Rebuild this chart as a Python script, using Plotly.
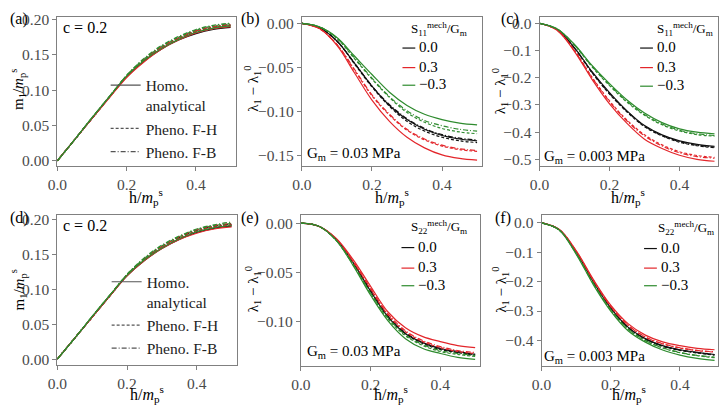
import plotly.graph_objects as go

# ---------------- data ----------------
H = [0.0, 0.05, 0.10, 0.15, 0.20, 0.25, 0.30, 0.35, 0.40, 0.45, 0.50]

# (a) magnetisation, c = 0.2
a_black_solid   = [0, 0.030, 0.060, 0.090, 0.119, 0.141, 0.158, 0.171, 0.180, 0.186, 0.189]
a_black_dash    = [0, 0.030, 0.060, 0.090, 0.120, 0.142, 0.160, 0.173, 0.183, 0.189, 0.192]
a_black_dashdot = [0, 0.030, 0.060, 0.090, 0.120, 0.143, 0.161, 0.174, 0.184, 0.190, 0.193]
a_red_solid     = [0, 0.030, 0.060, 0.089, 0.118, 0.140, 0.158, 0.171, 0.181, 0.187, 0.190]
a_red_dash      = [0, 0.030, 0.060, 0.090, 0.119, 0.142, 0.160, 0.173, 0.183, 0.189, 0.192]
a_red_dashdot   = [0, 0.030, 0.060, 0.090, 0.120, 0.143, 0.161, 0.174, 0.184, 0.190, 0.193]
a_green_solid   = [0, 0.030, 0.061, 0.091, 0.120, 0.142, 0.159, 0.172, 0.182, 0.188, 0.191]
a_green_dash    = [0, 0.030, 0.061, 0.091, 0.121, 0.144, 0.162, 0.175, 0.185, 0.191, 0.194]
a_green_dashdot = [0, 0.030, 0.061, 0.091, 0.121, 0.145, 0.163, 0.176, 0.186, 0.192, 0.195]

# (b) lambda shift, G_m = 0.03 MPa, S11
b_black_solid   = [0, -0.005, -0.020, -0.045, -0.071, -0.093, -0.109, -0.120, -0.127, -0.131, -0.133]
b_black_dash    = [0, -0.005, -0.020, -0.046, -0.072, -0.094, -0.111, -0.122, -0.129, -0.133, -0.135]
b_black_dashdot = [0, -0.005, -0.020, -0.045, -0.071, -0.092, -0.108, -0.119, -0.126, -0.130, -0.132]
b_red_solid     = [0, -0.006, -0.025, -0.056, -0.087, -0.111, -0.129, -0.141, -0.149, -0.153, -0.155]
b_red_dash      = [0, -0.006, -0.024, -0.053, -0.082, -0.104, -0.121, -0.132, -0.139, -0.143, -0.145]
b_red_dashdot   = [0, -0.006, -0.024, -0.052, -0.081, -0.103, -0.120, -0.131, -0.138, -0.142, -0.144]
b_green_solid   = [0, -0.004, -0.016, -0.037, -0.058, -0.078, -0.093, -0.103, -0.109, -0.113, -0.115]
b_green_dash    = [0, -0.004, -0.017, -0.040, -0.063, -0.084, -0.101, -0.112, -0.119, -0.123, -0.125]
b_green_dashdot = [0, -0.004, -0.017, -0.039, -0.062, -0.083, -0.099, -0.110, -0.116, -0.120, -0.122]

# (c) lambda shift, G_m = 0.003 MPa, S11
c_black_solid   = [0, -0.023, -0.090, -0.178, -0.255, -0.322, -0.376, -0.410, -0.432, -0.445, -0.452]
c_black_dash    = [0, -0.023, -0.092, -0.182, -0.260, -0.326, -0.380, -0.414, -0.437, -0.450, -0.457]
c_black_dashdot = [0, -0.023, -0.091, -0.180, -0.258, -0.324, -0.378, -0.412, -0.435, -0.448, -0.455]
c_red_solid     = [0, -0.026, -0.104, -0.206, -0.296, -0.368, -0.426, -0.460, -0.485, -0.500, -0.507]
c_red_dash      = [0, -0.025, -0.100, -0.198, -0.285, -0.356, -0.410, -0.447, -0.472, -0.486, -0.493]
c_red_dashdot   = [0, -0.025, -0.101, -0.200, -0.288, -0.359, -0.414, -0.451, -0.476, -0.490, -0.496]
c_green_solid   = [0, -0.020, -0.078, -0.155, -0.222, -0.282, -0.330, -0.365, -0.388, -0.400, -0.406]
c_green_dash    = [0, -0.021, -0.081, -0.160, -0.229, -0.290, -0.338, -0.373, -0.396, -0.409, -0.415]
c_green_dashdot = [0, -0.021, -0.080, -0.158, -0.226, -0.287, -0.335, -0.370, -0.393, -0.406, -0.412]

# (d) magnetisation, c = 0.2 (S22 case)
d_black_solid   = [0, 0.030, 0.060, 0.090, 0.119, 0.141, 0.158, 0.171, 0.181, 0.187, 0.190]
d_black_dash    = [0, 0.030, 0.060, 0.090, 0.120, 0.142, 0.160, 0.173, 0.183, 0.189, 0.192]
d_black_dashdot = [0, 0.030, 0.060, 0.090, 0.120, 0.143, 0.161, 0.174, 0.184, 0.190, 0.193]
d_red_solid     = [0, 0.030, 0.060, 0.090, 0.119, 0.141, 0.158, 0.171, 0.180, 0.186, 0.189]
d_red_dash      = [0, 0.030, 0.060, 0.090, 0.120, 0.142, 0.160, 0.173, 0.183, 0.189, 0.192]
d_red_dashdot   = [0, 0.030, 0.060, 0.090, 0.120, 0.143, 0.161, 0.175, 0.185, 0.191, 0.194]
d_green_solid   = [0, 0.030, 0.061, 0.091, 0.120, 0.142, 0.159, 0.172, 0.182, 0.188, 0.191]
d_green_dash    = [0, 0.030, 0.061, 0.091, 0.121, 0.144, 0.162, 0.175, 0.185, 0.191, 0.194]
d_green_dashdot = [0, 0.030, 0.061, 0.091, 0.121, 0.145, 0.163, 0.176, 0.186, 0.192, 0.196]

# (e) lambda shift, G_m = 0.03 MPa, S22
e_black_solid   = [0, -0.003, -0.016, -0.040, -0.069, -0.095, -0.112, -0.121, -0.127, -0.130, -0.133]
e_black_dash    = [0, -0.003, -0.016, -0.040, -0.069, -0.095, -0.112, -0.122, -0.128, -0.131, -0.134]
e_black_dashdot = [0, -0.003, -0.016, -0.040, -0.068, -0.094, -0.111, -0.121, -0.127, -0.131, -0.133]
e_red_solid     = [0, -0.003, -0.015, -0.037, -0.064, -0.090, -0.106, -0.115, -0.120, -0.124, -0.126]
e_red_dash      = [0, -0.003, -0.016, -0.039, -0.067, -0.093, -0.110, -0.120, -0.126, -0.130, -0.132]
e_red_dashdot   = [0, -0.003, -0.016, -0.039, -0.066, -0.092, -0.109, -0.119, -0.125, -0.129, -0.131]
e_green_solid   = [0, -0.003, -0.017, -0.043, -0.073, -0.099, -0.117, -0.127, -0.132, -0.136, -0.138]
e_green_dash    = [0, -0.003, -0.017, -0.042, -0.071, -0.097, -0.114, -0.124, -0.130, -0.133, -0.135]
e_green_dashdot = [0, -0.003, -0.017, -0.042, -0.071, -0.096, -0.113, -0.123, -0.129, -0.132, -0.134]

# (f) lambda shift, G_m = 0.003 MPa, S22
f_black_solid   = [0, -0.022, -0.099, -0.201, -0.289, -0.355, -0.394, -0.418, -0.432, -0.441, -0.448]
f_black_dash    = [0, -0.022, -0.100, -0.203, -0.291, -0.357, -0.396, -0.420, -0.434, -0.443, -0.450]
f_black_dashdot = [0, -0.022, -0.100, -0.202, -0.290, -0.356, -0.395, -0.419, -0.433, -0.442, -0.449]
f_red_solid     = [0, -0.021, -0.094, -0.193, -0.280, -0.343, -0.382, -0.405, -0.418, -0.427, -0.432]
f_red_dash      = [0, -0.022, -0.097, -0.197, -0.285, -0.349, -0.389, -0.412, -0.426, -0.435, -0.440]
f_red_dashdot   = [0, -0.022, -0.096, -0.196, -0.284, -0.348, -0.388, -0.411, -0.425, -0.434, -0.439]
f_green_solid   = [0, -0.023, -0.106, -0.211, -0.300, -0.367, -0.406, -0.433, -0.450, -0.461, -0.468]
f_green_dash    = [0, -0.023, -0.104, -0.207, -0.296, -0.362, -0.401, -0.426, -0.442, -0.452, -0.459]
f_green_dashdot = [0, -0.023, -0.103, -0.206, -0.295, -0.361, -0.400, -0.425, -0.441, -0.451, -0.457]

LEGEND_NAMES = ["Homo.<br>analytical", "Pheno. F-H", "Pheno. F-B"]
KEY_LABELS = ["0.0", "0.3", "\u22120.3"]

# ---------------- styling ----------------
W, HT = 719, 410
FONT = "Liberation Serif"
COL = {"black": "#111111", "red": "#e3262b", "green": "#2e8b2e"}
DASH = {"solid": "solid", "dash": "3px,2px", "dashdot": "5px,2px,1px,2px"}
TICKCOL = "#4a4a4a"
FRAME = "#808080"

def xd(a, b):
    return [a / W, b / W]

def yd(top, bot):
    return [1 - bot / HT, 1 - top / HT]

def px(x):
    return x / W

def py(y):
    return 1 - y / HT

G = globals()
panels = [
    dict(key="a", dom_x=xd(48, 229), dom_y=yd(11, 164), xr=[0, 0.515], yr=[-0.008, 0.204], dt=0.05, fmt=".2f"),
    dict(key="b", dom_x=xd(296, 479), dom_y=yd(11, 164), xr=[0, 0.515], yr=[-0.162, 0.0074], dt=0.05, fmt=".2f"),
    dict(key="c", dom_x=xd(537, 718), dom_y=yd(11, 164), xr=[0, 0.51], yr=[-0.526, 0.024], dt=0.1, fmt=".1f"),
    dict(key="d", dom_x=xd(48, 230), dom_y=yd(214, 367), xr=[0, 0.515], yr=[-0.0084, 0.2056], dt=0.05, fmt=".2f"),
    dict(key="e", dom_x=xd(295, 477), dom_y=yd(214, 368), xr=[0, 0.515], yr=[-0.1446, 0.0079], dt=0.05, fmt=".2f"),
    dict(key="f", dom_x=xd(539, 718), dom_y=yd(214, 368), xr=[0, 0.51], yr=[-0.487, 0.026], dt=0.1, fmt=".1f"),
]

fig = go.Figure()
layout = dict(
    width=W, height=HT, margin=dict(l=0, r=0, t=0, b=0),
    paper_bgcolor="white", plot_bgcolor="white",
    font=dict(family=FONT, size=15, color="black"),
    showlegend=True,
)

for i, p in enumerate(panels):
    n = i + 1
    xs = "x" if n == 1 else f"x{n}"
    ys = "y" if n == 1 else f"y{n}"
    common = dict(showline=True, linecolor=FRAME, linewidth=1, mirror=True,
                  showgrid=False, zeroline=False, ticks="outside", ticklen=4,
                  tickcolor=FRAME, tickfont=dict(family=FONT, size=15.5, color=TICKCOL))
    layout["xaxis" if n == 1 else f"xaxis{n}"] = dict(
        domain=p["dom_x"], range=p["xr"], anchor=ys, tick0=0, dtick=0.2,
        tickformat=".1f", **common)
    layout["yaxis" if n == 1 else f"yaxis{n}"] = dict(
        domain=p["dom_y"], range=p["yr"], anchor=xs, tick0=0, dtick=p["dt"],
        tickformat=p["fmt"], **common)
    for color in ["black", "red", "green"]:
        for style in ["solid", "dash", "dashdot"]:
            fig.add_trace(go.Scatter(
                x=H, y=G[f"{p['key']}_{color}_{style}"], xaxis=xs, yaxis=ys,
                mode="lines", line=dict(color=COL[color], width=1.2, dash=DASH[style], shape="spline"),
                showlegend=False, hoverinfo="skip"))

# legends for panels (a) and (d): line styles
for lg, xa, ya in [("legend", "x", "y"), ("legend2", "x4", "y4")]:
    for name, style in zip(LEGEND_NAMES, ["solid", "dash", "dashdot"]):
        fig.add_trace(go.Scatter(
            x=[None], y=[None], xaxis=xa, yaxis=ya, mode="lines", name=name,
            line=dict(color="#555555", width=1.2, dash=DASH[style]),
            legend=lg, showlegend=True))

leg_common = dict(xanchor="left", yanchor="top", bgcolor="rgba(0,0,0,0)",
                  font=dict(family=FONT, size=15.5, color="#222222"), valign="top",
                  borderwidth=0, tracegroupgap=0)
layout["legend"] = dict(x=px(97), y=py(64), **leg_common)
layout["legend2"] = dict(x=px(98), y=py(265), **leg_common)

ann = []
def A(text, x, y, size=15, xanchor="left", angle=0, color="black"):
    ann.append(dict(text=text, x=px(x), y=py(y), xref="paper", yref="paper",
                    xanchor=xanchor, yanchor="middle", showarrow=False,
                    textangle=angle, font=dict(family=FONT, size=size, color=color)))

# panel labels
A("(a)", -2, 13, 16); A("(b)", 232, 13, 16); A("(c)", 496, 13, 16)
A("(d)", -2, 217, 16); A("(e)", 232, 217, 16); A("(f)", 490, 217, 16)

# x titles
XT = "h/<i>m</i><sub>p</sub><sup>s</sup>"
for cx, cy in [(138, 195), (387, 195), (627, 195), (139, 397), (386, 397), (628, 397)]:
    A(XT, cx, cy, 16, "center")

# y titles
MT = "m<sub>1</sub>/<i>m</i><sub>p</sub><sup>s</sup>"
LT = "\u03bb<sub>1</sub> \u2212 \u03bb<sub>1</sub><sup>0</sup>"
A(MT, 8, 85, 15, "center", -90); A(MT, 8, 290, 15, "center", -90)
A(LT, 246, 85, 15, "center", -90); A(LT, 497, 87, 15, "center", -90)
A(LT, 246, 290, 15, "center", -90); A(LT, 497, 290, 15, "center", -90)

# in-panel texts
A("c = 0.2", 52, 22, 16); A("c = 0.2", 52, 224, 16)
A("G<sub>m</sub> = 0.03 MPa", 299, 151, 15)
A("G<sub>m</sub> = 0.003 MPa", 539, 154, 15)
A("G<sub>m</sub> = 0.03 MPa", 299, 354, 15)
A("G<sub>m</sub> = 0.003 MPa", 540, 359, 15)

# colour keys (header text, short coloured line samples, value labels)
S11 = "S<sub>11</sub><sup>mech</sup>/G<sub>m</sub>"
S22 = "S<sub>22</sub><sup>mech</sup>/G<sub>m</sub>"
shapes = []
for hdr, hx, hy, kx, kys in [(S11, 405, 24, 398, [43, 63, 81]), (S11, 654, 24, 639, [43, 63, 82]),
                             (S22, 405, 226, 397, [247, 268, 286]), (S22, 655, 227, 643, [248, 268, 286])]:
    A(hdr, hx, hy, 13)
    for lab, color, ky in zip(KEY_LABELS, ["black", "red", "green"], kys):
        shapes.append(dict(type="line", xref="paper", yref="paper",
                           x0=px(kx), x1=px(kx + 13), y0=py(ky), y1=py(ky),
                           line=dict(color=COL[color], width=1.2)))
        A(lab, kx + 15, ky - 1, 15)

layout["annotations"] = ann
layout["shapes"] = shapes
fig.update_layout(**layout)
fig.write_html("out.html")
